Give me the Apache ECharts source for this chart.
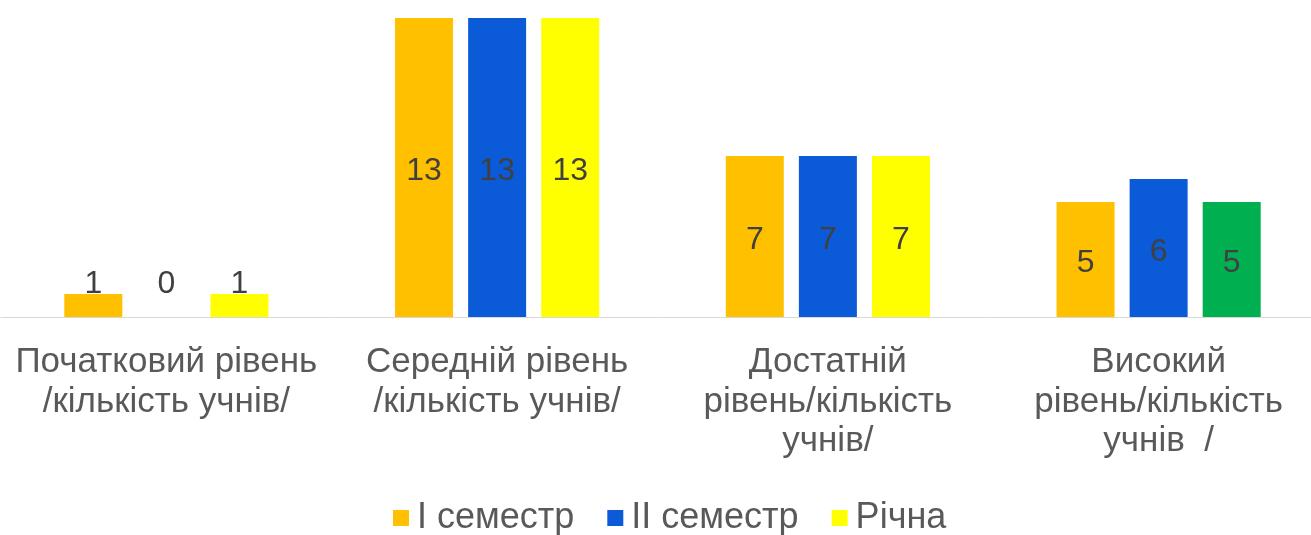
<!DOCTYPE html>
<html>
<head>
<meta charset="utf-8">
<script src="https://cdn.jsdelivr.net/npm/echarts@6/dist/echarts.min.js"></script>
<style>
  html, body { margin: 0; padding: 0; background: #fff; }
  #chart { width: 1311px; height: 535px; }
</style>
</head>
<body>
<div id="chart"></div>
<script>
const categories = [
  'Початковий рівень\n/кількість учнів/',
  'Середній рівень\n/кількість учнів/',
  'Достатній\nрівень/кількість\nучнів/',
  'Високий\nрівень/кількість\nучнів  /'
];
const seriesNames = ['I семестр', 'II семестр', 'Річна'];
const semester1 = [1, 13, 7, 5];
const semester2 = [0, 13, 7, 6];
const annual = [1, 13, 7, 5];

const colors = ['#FFC000', '#0B5AD8', '#FFFF00'];
const FONT = 'Arial, "Liberation Sans", sans-serif';

function buildData(values, seriesIdx) {
  return values.map(function (v, i) {
    const item = { value: v };
    if (v <= 1) {
      item.label = { position: 'insideBottom', distance: 21 };
    }
    if (seriesIdx === 2 && i === 3) {
      item.itemStyle = { color: '#00B050' };
    }
    return item;
  });
}

const allValues = [semester1, semester2, annual];
const series = allValues.map(function (vals, s) {
  return {
    name: seriesNames[s],
    type: 'bar',
    barWidth: 58,
    barGap: '26%',
    itemStyle: { color: colors[s] },
    label: {
      show: true,
      position: 'inside',
      offset: [0, 4],
      color: '#404040',
      fontSize: 32,
      fontFamily: FONT
    },
    data: buildData(vals, s)
  };
});

const chart = echarts.init(document.getElementById('chart'));
chart.setOption({
  animation: false,
  color: colors,
  grid: { left: 1, width: 1323, top: 18, bottom: 218, containLabel: false, outerBoundsMode: 'none' },
  legend: {
    top: 495,
    left: 388,
    itemWidth: 16,
    itemHeight: 16,
    itemGap: 33,
    icon: 'rect',
    textStyle: { color: '#595959', fontSize: 36, fontFamily: FONT, padding: [0, 0, 0, 3] },
    data: seriesNames
  },
  xAxis: {
    type: 'category',
    data: categories,
    axisTick: { show: false },
    axisLine: { lineStyle: { color: '#d9d9d9', width: 1 } },
    axisLabel: {
      interval: 0,
      color: '#595959',
      fontSize: 35,
      lineHeight: 39.5,
      margin: 26,
      fontFamily: FONT
    }
  },
  yAxis: {
    type: 'value',
    min: 0,
    max: 13,
    show: false,
    splitLine: { show: false }
  },
  series: series
});
</script>
</body>
</html>
